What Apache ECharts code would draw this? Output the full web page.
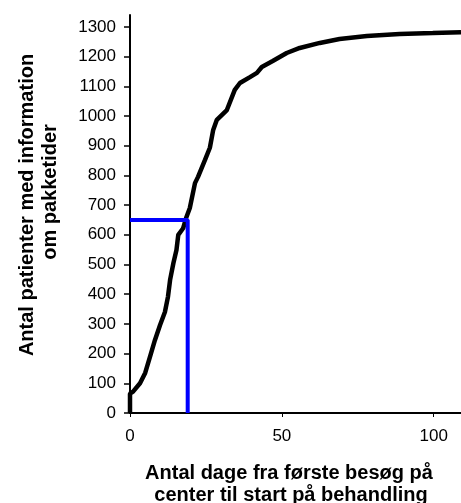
<!DOCTYPE html>
<html>
<head>
<meta charset="utf-8">
<script src="https://cdn.jsdelivr.net/npm/echarts@6/dist/echarts.min.js"></script>
<style>
  html, body { margin: 0; padding: 0; background: #fff; }
  #chart { width: 461px; height: 503px; }
</style>
</head>
<body>
<div id="chart"></div>
<script>
// dage (x) og kumuleret antal patienter (y)
var days = [0, 0, 1, 3.3, 5, 6.6, 8.2, 9.9, 11.5, 12.5, 13.2, 14.3, 15.3, 15.9, 17.5, 18.6, 19.7, 21.4, 22.4, 24.7, 26.3, 27.4, 28.6, 31.9, 34.5, 36.2, 39.5, 41.8, 43.4, 47, 51.6, 55.9, 62.5, 69, 78, 88.8, 99.7, 109];
var patients = [0, 65, 72, 100, 135, 190, 245, 296, 340, 391, 448, 505, 549, 600, 622, 660, 690, 774, 795, 852, 893, 953, 987, 1020, 1088, 1111, 1131, 1145, 1165, 1185, 1212, 1229, 1246, 1259, 1269, 1276, 1279, 1282];
var markerDay = 19;
var markerCount = 650;
var yTicks = [0, 100, 200, 300, 400, 500, 600, 700, 800, 900, 1000, 1100, 1200, 1300];
var xTicks = [0, 50, 100];

var chart = echarts.init(document.getElementById('chart'));

var curve = days.map(function (d, i) { return [d, patients[i]]; });

var option = {
  animation: false,
  grid: { left: 130, right: 0, top: 15, bottom: 90 },
  xAxis: {
    type: 'value',
    min: 0,
    max: 109,
    splitLine: { show: false },
    axisLine: { show: true, onZero: false, lineStyle: { color: '#000', width: 2 } },
    axisTick: { show: true, length: 4, customValues: xTicks, lineStyle: { color: '#000', width: 1 } },
    axisLabel: { customValues: xTicks, color: '#000', fontSize: 17, fontFamily: 'Liberation Sans', margin: 15 }
  },
  yAxis: {
    type: 'value',
    min: 0,
    max: 1340,
    splitLine: { show: false },
    axisLine: { show: true, lineStyle: { color: '#000', width: 2 } },
    axisTick: { show: true, length: 6, customValues: yTicks, lineStyle: { color: '#000', width: 1.5 } },
    axisLabel: {
      customValues: yTicks, color: '#000', fontSize: 17, fontFamily: 'Liberation Sans', margin: 14,
      formatter: function (v) { return String(v); }
    }
  },
  graphic: [
    {
      type: 'text',
      x: 27, y: 205,
      rotation: Math.PI / 2,
      style: {
        text: 'Antal patienter med information',
        font: 'bold 20px "Liberation Sans"',
        fill: '#000',
        align: 'center',
        verticalAlign: 'middle'
      }
    },
    {
      type: 'text',
      x: 50, y: 192,
      rotation: Math.PI / 2,
      style: {
        text: 'om pakketider',
        font: 'bold 20px "Liberation Sans"',
        fill: '#000',
        align: 'center',
        verticalAlign: 'middle'
      }
    },
    {
      type: 'text',
      x: 289, y: 473,
      style: {
        text: 'Antal dage fra første besøg på',
        font: 'bold 20px "Liberation Sans"',
        fill: '#000',
        align: 'center',
        verticalAlign: 'middle'
      }
    },
    {
      type: 'text',
      x: 291, y: 495,
      style: {
        text: 'center til start på behandling',
        font: 'bold 20px "Liberation Sans"',
        fill: '#000',
        align: 'center',
        verticalAlign: 'middle'
      }
    }
  ],
  series: [
    {
      type: 'line',
      data: curve,
      symbol: 'none',
      lineStyle: { color: '#000', width: 4.5 },
      z: 3
    },
    {
      type: 'line',
      data: [[0, markerCount], [markerDay, markerCount], [markerDay, 0]],
      symbol: 'none',
      lineStyle: { color: '#0000ff', width: 4 },
      z: 4
    }
  ]
};

chart.setOption(option);
</script>
</body>
</html>
